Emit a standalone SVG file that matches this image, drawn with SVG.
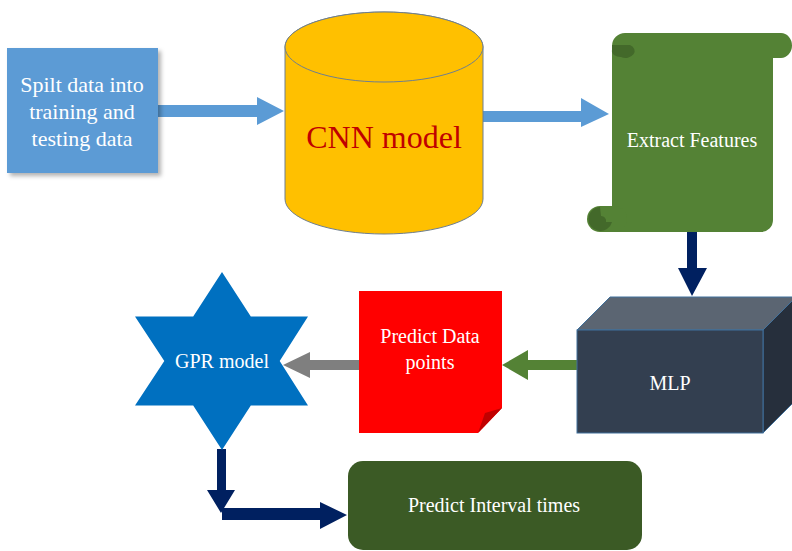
<svg xmlns="http://www.w3.org/2000/svg" width="792" height="551" viewBox="0 0 792 551">
<style>
text{font-family:"Liberation Serif","Times New Roman",serif;text-anchor:middle;fill:#ffffff;}
.lbl{font-size:20px;}
</style>
<defs>
<filter id="sh" x="-10%" y="-10%" width="130%" height="130%">
<feDropShadow dx="3" dy="3" stdDeviation="2" flood-color="#000" flood-opacity="0.3"/>
</filter>
</defs>
<rect width="792" height="551" fill="#ffffff"/>

<g id="connectors">
<polygon points="158,105 257,105 257,97 284,111 257,125 257,117 158,117" fill="#5b9bd5"/>
<polygon points="483,111 581,111 581,98 609,114 581,127 581,122 483,122" fill="#5b9bd5"/>
<polygon points="687,232 697,232 697,268 707,268 692,296 678,268 687,268" fill="#002060"/>
<polygon points="577,360 528,360 528,350 502,365 528,380 528,370 577,370" fill="#548235"/>
<polygon points="359,360 310,360 310,352 283,365 310,378 310,370 359,370" fill="#7f7f7f"/>
<polygon points="217,449 226,449 226,490 235,490 221,513 207,490 217,490" fill="#002060"/>
<polygon points="222,508 320,508 320,502 347,515 320,529 320,520 222,520" fill="#002060"/>
</g>

<g id="split">
<rect x="7" y="48" width="151" height="125" fill="#5b9bd5" filter="url(#sh)"/>
<text x="82" y="92" style="font-size:22px">Spilt data into</text>
<text x="82" y="119" style="font-size:22px">training and</text>
<text x="82" y="146" style="font-size:22px">testing data</text>
</g>

<g id="cnn">
<path d="M285,47 L285,199 A99,35 0 0 0 483,199 L483,47 A99,35 0 0 0 285,47 Z" fill="#ffc000" stroke="#6f7f8f" stroke-width="1"/>
<ellipse cx="384" cy="47" rx="99" ry="35" fill="#ffc000" stroke="#6f7f8f" stroke-width="1"/>
<text x="384" y="148" style="font-size:32px;fill:#c00000">CNN model</text>
</g>

<g id="extract">
<path d="M612,46 A13,13 0 0 1 625,33 L781,33 A11,12.5 0 0 1 781,58 L773,58 L773,220 A12,12 0 0 1 761,232 L612,232 Z" fill="#548235"/>
<rect x="587" y="206" width="40" height="26" rx="13" fill="#548235"/>
<path d="M612,45 L630,45 A8,6 0 0 1 621,57 A9,6 0 0 1 612,50 Z" fill="#43692a"/>
<path d="M600,207 A12,12 0 1 0 612,222 L606,222 A5,5 0 0 0 601,216 Z" fill="#43692a"/>
<text class="lbl" x="692" y="147">Extract Features</text>
</g>

<g id="mlp">
<polygon points="577,330 610,297 796,297 763,330" fill="#5b6572" stroke="#41719c" stroke-width="1"/>
<polygon points="763,330 796,297 796,400 763,433" fill="#262f3c" stroke="#41719c" stroke-width="1"/>
<rect x="577" y="330" width="186" height="103" fill="#333f50" stroke="#41719c" stroke-width="1"/>
<text class="lbl" x="670" y="390">MLP</text>
</g>

<g id="predict-data">
<polygon points="359,291 502,291 502,408 478,433 359,433" fill="#ff0000"/>
<polygon points="502,408 478,433 485,413" fill="#c00000"/>
<text class="lbl" x="430" y="343">Predict Data</text>
<text class="lbl" x="430" y="369">points</text>
</g>

<g id="gpr">
<polygon points="222,272 250.8,316.5 308,316.5 279.7,361 308,405.5 250.8,405.5 222,450 193.2,405.5 135,405.5 164.3,361 135,316.5 193.2,316.5" fill="#0070c0"/>
<text class="lbl" x="222" y="368">GPR model</text>
</g>

<g id="interval">
<rect x="348" y="461" width="294" height="89" rx="15" fill="#3b5a25"/>
<text class="lbl" x="494" y="512">Predict Interval times</text>
</g>
</svg>
